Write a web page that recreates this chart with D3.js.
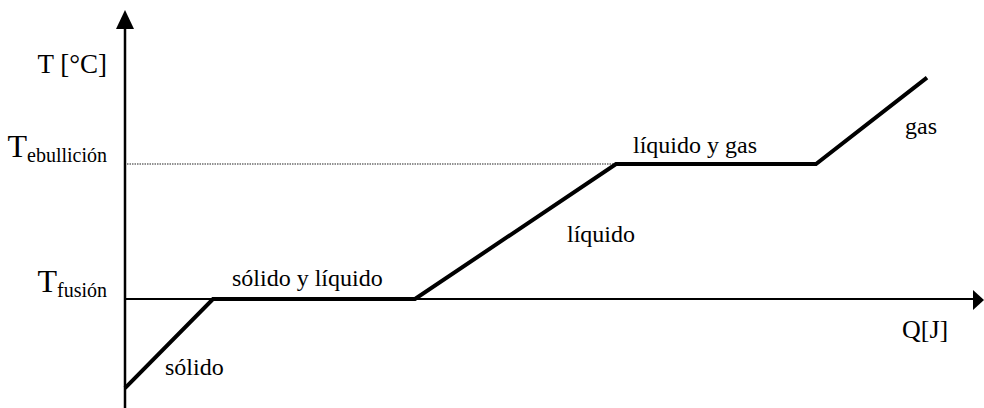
<!DOCTYPE html>
<html>
<head>
<meta charset="utf-8">
<script src="https://cdn.jsdelivr.net/npm/d3@7"></script>
<style>
  html, body { margin: 0; padding: 0; background: #fff; }
  svg { display: block; }
  text { font-family: "Liberation Serif", "Times New Roman", serif; fill: #000; }
</style>
</head>
<body>
<script>
// ---- data ----
const heatQ = [0, 88, 290, 491, 691, 802];       // heat supplied (arbitrary units)
const heatT = [-66, 0, 0, 100, 100, 164];        // temperature (°C)
const tickTemps = [0, 100];
const tickMain = ["T", "T"];
const tickSub = ["fusión", "ebullición"];
const phaseLabels = ["sólido", "sólido y líquido", "líquido", "líquido y gas", "gas"];
const phaseQ = [40, 107, 442, 508, 780];
const phaseT = [-56, 10, 42, 108, 122];
const yTitle = "T [°C]";
const xTitle = "Q[J]";

// ---- setup ----
const W = 984, H = 408;
const svg = d3.select("body").append("svg").attr("width", W).attr("height", H);

const x = d3.scaleLinear().domain([0, 850]).range([125, 975]);
const y = d3.scaleLinear().domain([0, 100]).range([299, 164]);

const axisG = svg.append("g");
// y axis
axisG.append("line")
  .attr("x1", x(0)).attr("x2", x(0))
  .attr("y1", H).attr("y2", 22)
  .attr("stroke", "#000").attr("stroke-width", 2.5);
axisG.append("path")
  .attr("d", `M${x(0)},10 L${x(0) - 9},29 L${x(0) + 9},29 Z`)
  .attr("fill", "#000");
// x axis
axisG.append("line")
  .attr("x1", x(0)).attr("x2", 976)
  .attr("y1", y(0)).attr("y2", y(0))
  .attr("stroke", "#000").attr("stroke-width", 2);
axisG.append("path")
  .attr("d", `M984,${y(0) + 1} L973,${y(0) - 9} L973,${y(0) + 11} Z`)
  .attr("fill", "#000");

// dotted guide at boiling temperature
svg.append("line")
  .attr("x1", x(0) + 2).attr("x2", x(heatQ[3]))
  .attr("y1", y(100)).attr("y2", y(100))
  .attr("stroke", "#222").attr("stroke-width", 1.2)
  .attr("stroke-dasharray", "1.5,1");

// heating curve
const pts = heatQ.map((q, i) => [q, heatT[i]]);
svg.append("path")
  .datum(pts)
  .attr("d", d3.line().x(d => x(d[0])).y(d => y(d[1])))
  .attr("fill", "none")
  .attr("stroke", "#000")
  .attr("stroke-width", 4)
  .attr("stroke-linejoin", "miter");

// tick labels
tickTemps.forEach((t, i) => {
  const tx = svg.append("text")
    .attr("x", 107)
    .attr("y", y(t) - 7)
    .attr("text-anchor", "end");
  tx.append("tspan").attr("font-size", 32).text(tickMain[i]);
  tx.append("tspan").attr("font-size", 20).attr("dy", 5).text(tickSub[i]);
});

// axis titles
svg.append("text").attr("x", 107).attr("y", 73).attr("text-anchor", "end")
  .attr("font-size", 27).text(yTitle);
svg.append("text").attr("x", 902).attr("y", 338)
  .attr("font-size", 26).text(xTitle);

// phase labels
phaseLabels.forEach((l, i) => {
  svg.append("text")
    .attr("x", x(phaseQ[i]))
    .attr("y", y(phaseT[i]))
    .attr("font-size", 24)
    .text(l);
});
</script>
</body>
</html>
